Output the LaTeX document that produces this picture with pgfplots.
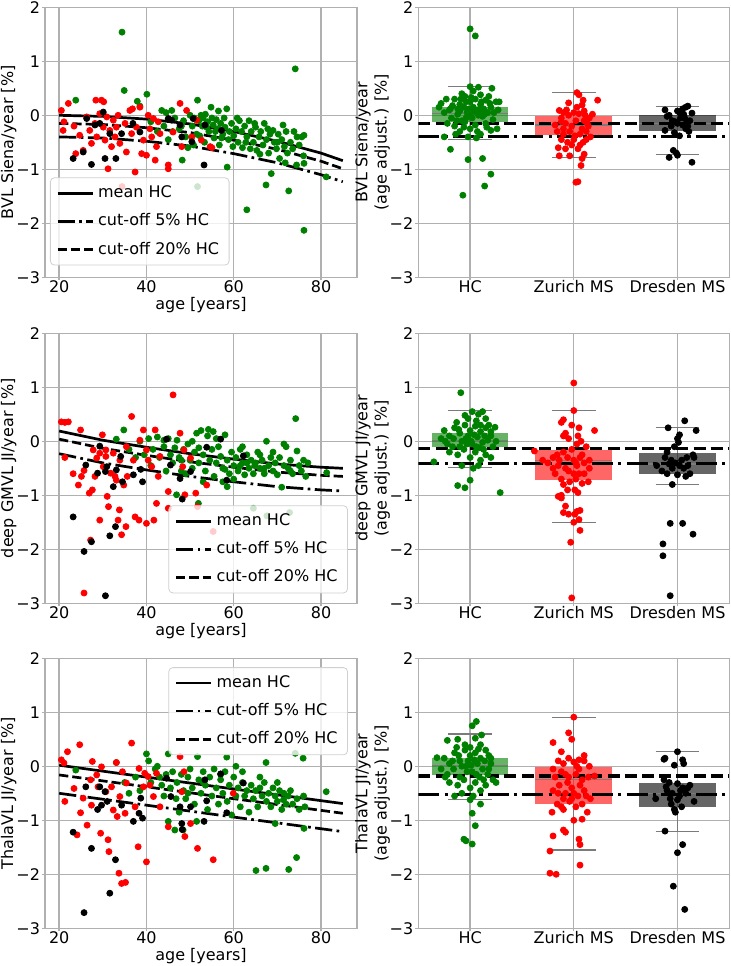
\documentclass[border=0pt]{standalone}
\usepackage{fontspec}
\setmainfont{DejaVu Sans}
\usepackage{pgfplots}
\pgfplotsset{compat=1.18}
\usepgfplotslibrary{statistics}

\definecolor{mgreen}{RGB}{0,128,0}
\definecolor{mred}{RGB}{255,0,0}
\definecolor{gridgray}{RGB}{176,176,176}
\newcommand{\fs}{\fontsize{8}{9.6}\selectfont}

\pgfplotsset{
  panel/.style={
    scale only axis, height=135pt,
    ymin=-3, ymax=2, ytick={-3,-2,-1,0,1,2},
    yticklabels={−3,−2,−1,0,1,2},
    grid=major, grid style={gridgray, line width=0.7pt},
    axis line style={gridgray, line width=0.7pt},
    tick style={gridgray, line width=0.7pt},
    tick align=outside, major tick length=1.5pt, tick pos=left,
    ticklabel style={font=\fs},
    xticklabel style={yshift=3.5pt},
    yticklabel style={xshift=2.5pt},
    label style={font=\fs},
    ylabel style={anchor=south, inner sep=0pt, at={(axis description cs:-0.09,0.5)}},
    legend cell align=left,
    legend style={draw=gridgray!60, fill=white, fill opacity=0.8, text opacity=1,
      rounded corners=2pt, font=\fs, inner xsep=3pt, inner ysep=2pt, row sep=2.5pt},
    legend image code/.code={\draw[#1] (0pt,0pt) -- (17.5pt,0pt);},
  },
  agepanel/.style={panel, width=156pt, xmin=16.75, xmax=88.25,
    xtick={20,40,60,80}, xticklabels={20,40,60,80}, xlabel={age [years]},
    xlabel style={at={(axis description cs:0.5,-0.104)}, anchor=center}},
  grppanel/.style={panel, width=155.5pt, xmin=-0.5, xmax=2.5,
    xtick={0,1,2}, xticklabels={HC,Zurich MS,Dresden MS},
    ylabel style={align=center, font=\fs, at={(axis description cs:-0.09,0.5)}}},
  dots/.style={only marks, mark=*, mark size=1.5pt, color=#1, forget plot},
  meanline/.style={black, line width=1.35pt},
  cutA/.style={black, line width=1.35pt, dash pattern=on 8.6pt off 2.2pt on 1.35pt off 2.2pt},
  cutB/.style={black, line width=1.35pt, dash pattern=on 4.6pt off 2pt},
  hcutA/.style={black, line width=1.65pt, dash pattern=on 10.5pt off 2.6pt on 1.65pt off 2.6pt, forget plot},
  hcutB/.style={black, line width=1.65pt, dash pattern=on 6pt off 2.6pt, forget plot},
  bx/.style={forget plot, draw=gridgray!70!black, line width=0.6pt},
}
% box: lower whisker, lower quartile, median, upper quartile, upper whisker, position, colour
\newcommand{\bxp}[7]{\addplot[bx, boxplot prepared={draw direction=y, lower whisker=#1, lower quartile=#2,
  median=#3, upper quartile=#4, upper whisker=#5, draw position=#6, box extend=0.74,
  whisker extend=0.42, every box/.style={draw=none, fill=#7, fill opacity=0.6}}] coordinates {};}

\begin{document}
\begin{tikzpicture}
\useasboundingbox (0,0) rectangle (365.5pt,483pt);

% ---------------- row 1 ----------------
\begin{axis}[agepanel, at={(22.5pt,344.35pt)}, anchor=south west,
  ylabel={BVL Siena/year [\%]},
  legend style={at={(0.016,0.044)}, anchor=south west}]
\addplot[dots=mgreen] coordinates {(23.8,0.28) (34.4,1.54) (34.9,0.46) (37.9,0.26) (38.5,0.17) (40.1,0.39) (43.5,0.09) (45.8,0.09) (41,-0.12) (42.5,-0.3) (44,-0.2) (45,-0.45) (46.5,-0.05) (47.5,-0.25) (48.2,-0.83) (48.5,-0.1) (49,-0.4) (49.5,-0.6) (50,0.0) (50.5,-0.2) (51,-0.05) (51.5,-0.35) (51.7,0.28) (51.7,-1.32) (52,-0.1) (52.5,0.0) (52.8,-0.2) (53,-0.05) (53.3,-0.5) (53.5,0.02) (54,-0.12) (54.3,-0.3) (54.8,0.15) (55,-0.05) (55.3,-0.18) (55.5,-0.42) (56,-0.08) (56.3,-0.25) (56.7,-0.55) (57,-0.15) (57.5,-0.35) (57.8,-0.05) (58,-0.22) (58.4,0.12) (58.5,-0.96) (58.8,-0.45) (59,-0.3) (59.5,-0.15) (60,-0.38) (60.5,-0.25) (61,-0.5) (61.3,-0.1) (61.8,-0.3) (62,-0.6) (62.5,-0.2) (63,-0.4) (63,-1.75) (63.5,-0.1) (64,-0.3) (64.5,-0.5) (65,-0.22) (65.3,-0.65) (65.8,-0.4) (66.2,-0.3) (66.7,-0.55) (67,-0.15) (67.4,-1.29) (67.5,-0.45) (68,-0.7) (68.3,-0.35) (68.6,-1.08) (69,-0.28) (69.3,-0.5) (69.8,-0.62) (70.2,-0.35) (70.5,-0.8) (71,-0.45) (71.3,-0.18) (71.6,-0.58) (72,-0.3) (72.3,-0.7) (72.6,-1.40) (73,-0.5) (73.5,-0.62) (74.1,0.86) (74.4,-0.92) (74.5,-0.4) (75,-0.55) (75.6,-0.40) (76.1,-0.37) (76.1,-0.89) (76.1,-2.13) (76,-0.75) (81.2,-1.14) (53.8,-0.22) (55.8,-0.3) (57.2,-0.42) (60.8,-0.05) (62.8,-0.5) (64.8,-0.15) (66,-0.72) (70,-0.5) (73.8,-0.3) (52.2,-0.38) (50.8,-0.55) (48,-0.2) (46,-0.3) (44.5,0.05) (56.5,0.08) (59.8,-0.58) (63.8,-0.62) (67.8,-0.25) (71.8,-0.88)};
\addplot[dots=mred] coordinates {(20.5,0.09) (22.1,0.22) (21.1,-0.12) (23.4,-0.2) (23.8,-0.71) (24.7,-0.37) (26.3,-0.03) (27.0,-0.28) (27.4,-0.52) (28.2,-0.15) (28.6,-0.4) (29.3,0.03) (29.7,0.28) (30.1,-0.22) (30.5,-0.46) (30.9,-0.03) (31.2,-0.99) (31.6,-0.28) (32.0,-0.58) (32.4,-0.09) (32.8,-0.40) (33.1,-0.22) (33.5,0.0) (33.9,-0.52) (34.4,-1.32) (35.1,-0.15) (35.4,-0.68) (36.2,0.09) (36.6,-0.34) (37.4,-1.05) (37.7,-0.22) (38.5,0.15) (38.9,-0.71) (39.3,-0.46) (40.0,-0.74) (40.4,0.0) (40.8,-0.25) (41.2,-0.40) (41.6,-0.06) (42.0,-0.83) (42.3,-0.58) (42.7,-0.12) (43.1,-0.34) (45.0,-0.92) (45.0,-0.99) (46.1,-0.31) (47.7,0.22) (48.1,-0.58) (49.2,0.09) (50.4,-0.40) (51.5,-0.09) (52.6,-0.46) (54.6,-0.58) (55.0,-0.6) (20.9,-0.28) (25.5,-0.65) (28.4,0.28) (30.2,0.25) (36.8,0.12)};
\addplot[dots=black] coordinates {(23.2,-0.8) (25.5,-0.68) (27.4,-0.91) (30.1,0.06) (30.5,-0.8) (31.6,-0.34) (33.0,-0.8) (26.3,-0.06) (29.3,-0.15) (34.3,-0.34) (36.9,-0.15) (38.5,-0.31) (45.0,-0.06) (45.8,-0.09) (48.1,-0.40) (50.4,-0.49) (50.7,-0.06) (53.2,-0.92) (53.4,-0.18) (57.2,-0.28) (47.7,-0.18) (28.2,-0.18)};
\addplot[meanline] coordinates {(20,0.0) (30,-0.02) (40,-0.07) (50,-0.16) (60,-0.3) (70,-0.48) (80,-0.7) (85,-0.84)};
\addlegendentry{mean HC}
\addplot[cutA] coordinates {(20,-0.4) (30,-0.42) (40,-0.48) (50,-0.57) (60,-0.71) (70,-0.88) (80,-1.1) (85,-1.23)};
\addlegendentry{cut-off 5\% HC}
\addplot[cutB] coordinates {(20,-0.15) (30,-0.17) (40,-0.23) (50,-0.32) (60,-0.46) (70,-0.63) (80,-0.85) (85,-0.99)};
\addlegendentry{cut-off 20\% HC}
\end{axis}

\begin{axis}[grppanel, at={(209.15pt,344.35pt)}, anchor=south west,
  ylabel={BVL Siena/year\\(age adjust.) [\%]}]
\bxp{-0.45}{-0.12}{0.03}{0.15}{0.53}{0}{mgreen}
\bxp{-0.78}{-0.37}{-0.18}{-0.02}{0.42}{1}{mred}
\bxp{-0.72}{-0.29}{-0.15}{0.01}{0.17}{2}{black}
\addplot[dots=mgreen] coordinates {(0.0,1.6) (0.05,1.47) (-0.07,-1.48) (0.14,-1.31) (0.2,-1.09) (0.12,-0.8) (-0.02,-0.82) (-0.19,-0.63) (-0.25,-0.4) (0.26,-0.25) (0.21,0.5) (0.0,0.53) (0.03,0.45) (0.08,0.52) (-0.28,0.22) (-0.2,0.1) (-0.15,0.3) (-0.1,0.2) (-0.05,0.35) (0.0,0.25) (0.05,0.3) (0.1,0.2) (0.15,0.28) (0.2,0.15) (0.25,0.25) (-0.25,0.05) (-0.18,-0.05) (-0.12,0.12) (-0.08,-0.1) (-0.03,0.05) (0.02,-0.05) (0.07,0.1) (0.12,-0.02) (0.17,0.05) (0.22,-0.08) (0.27,0.1) (-0.22,-0.15) (-0.15,-0.2) (-0.1,-0.3) (-0.05,-0.12) (0.0,-0.25) (0.05,-0.18) (0.1,-0.35) (0.15,-0.15) (0.2,-0.28) (-0.12,0.02) (-0.06,0.15) (0.03,0.15) (0.08,0.0) (0.13,0.12) (-0.17,0.18) (-0.02,-0.4) (0.06,-0.42) (-0.08,0.4) (0.1,0.38) (-0.14,-0.35) (0.18,0.35) (-0.23,0.3) (0.0,0.0) (0.04,0.07) (-0.1,0.08) (0.16,-0.22) (-0.04,0.25) (0.11,0.25) (-0.19,0.12) (0.23,0.05) (-0.01,0.12) (0.07,-0.3) (-0.06,-0.22) (0.01,0.33) (0.14,0.02) (-0.09,0.3) (0.19,0.22) (-0.13,-0.1) (0.09,0.08) (-0.04,-0.05) (0.28,0.25) (-0.3,0.15)};
\addplot[dots=mred] coordinates {(1.03,0.42) (1.05,0.38) (1.09,0.28) (1.23,0.28) (0.86,0.09) (0.95,0.23) (1.08,0.19) (0.88,-0.05) (0.82,-0.18) (1.1,-0.1) (0.85,-0.6) (0.92,-0.62) (0.96,-0.75) (1.06,-0.55) (1.1,-0.72) (1.07,-0.93) (1.04,-1.23) (1.02,-1.24) (0.86,-0.75) (1.12,-0.45) (0.9,0.05) (0.95,0.0) (1.0,0.05) (1.05,0.03) (1.1,0.08) (1.15,-0.05) (0.92,-0.15) (0.98,-0.2) (1.02,-0.1) (1.08,-0.25) (1.14,-0.2) (1.18,0.02) (0.84,-0.3) (0.9,-0.35) (0.96,-0.3) (1.01,-0.38) (1.06,-0.35) (1.12,-0.3) (0.88,-0.45) (0.94,-0.5) (1.0,-0.45) (1.04,-0.62) (1.09,-0.5) (0.9,-0.25) (1.16,-0.4) (1.03,0.15) (0.93,0.1) (1.11,0.0) (0.98,-0.55) (1.08,-0.8) (0.88,-0.12) (1.13,-0.15)};
\addplot[dots=black] coordinates {(1.88,0.1) (2.0,0.08) (2.05,0.12) (2.08,0.15) (2.1,0.17) (2.14,0.04) (1.9,-0.02) (1.95,-0.1) (2.0,-0.15) (2.05,-0.18) (2.1,-0.2) (1.88,-0.28) (1.97,-0.32) (2.02,-0.38) (2.08,-0.25) (1.96,-0.65) (1.99,-0.7) (2.0,-0.74) (1.92,-0.78) (2.14,-0.87) (2.12,-0.1) (1.92,0.0) (2.03,-0.05) (1.94,-0.2) (2.07,-0.05) (2.11,-0.3) (2.02,0.05) (1.98,-0.12) (2.06,0.02) (2.09,-0.12)};
\addplot[hcutB] coordinates {(-0.5,-0.15) (2.5,-0.15)};
\addplot[hcutA] coordinates {(-0.5,-0.39) (2.5,-0.39)};
\end{axis}

% ---------------- row 2 ----------------
\begin{axis}[agepanel, at={(22.5pt,181.35pt)}, anchor=south west,
  ylabel={deep GMVL JI/year [\%]},
  legend style={at={(0.971,0.037)}, anchor=south east}]
\addplot[dots=mgreen] coordinates {(33.1,0.04) (34.8,0.21) (36,-0.15) (37.5,-0.3) (38.5,0.0) (39.5,-0.25) (40.5,0.05) (41,-0.45) (41.5,-0.15) (42.5,0.08) (43,-0.3) (44,-0.1) (44.5,-0.55) (45,0.05) (45.5,-0.25) (46,-0.4) (46.5,-0.12) (46.9,-0.99) (47,0.02) (47.5,-0.3) (48,-0.55) (48.5,-0.15) (49,-0.6) (49.5,-0.05) (50,-0.35) (50.5,-0.5) (51,-0.2) (51.5,0.15) (51.9,-1.15) (52,-0.4) (52.5,0.2) (53,-0.25) (53.5,-0.55) (54,0.1) (54.5,-0.35) (55,-0.15) (55.5,-0.65) (56,-0.4) (56.5,-0.1) (57,-0.28) (57.5,-0.5) (58,0.12) (58.5,-0.84) (58.5,-0.35) (59,-0.6) (59.5,-0.2) (60,-0.45) (60.5,-0.3) (61,-0.55) (61.5,-0.15) (62,-0.4) (62.5,-0.62) (63,-0.25) (63.5,-0.5) (64,-0.35) (64.5,-1.24) (64.5,-0.6) (65,-0.4) (65.5,-0.2) (66,-0.5) (66.5,-0.35) (67,-0.6) (67.6,-1.38) (67.5,0.0) (68,-0.45) (68.5,-0.3) (69,-0.55) (69.5,-0.4) (70,-0.62) (70.5,-0.3) (71,-0.85) (71.5,-0.45) (72,-0.1) (72.8,-1.32) (72.5,-0.5) (73,-0.35) (73.5,-0.6) (74.2,0.42) (74.5,-0.18) (75,-0.45) (75.5,-0.55) (76,-0.35) (76.5,-0.65) (77,-0.4) (71.5,-0.05) (66,-0.25) (62,-0.1) (56,0.05) (60,-0.7) (53,-0.75) (50.5,0.0) (48,-0.35) (44,0.02) (55.3,0.18) (54.2,0.22) (57.5,-0.75) (64.8,-0.45) (69,-0.2) (63,-0.4) (58,-0.52) (52,-0.12) (61.5,-0.45) (67,-0.5) (73,-0.55) (81.3,-0.58)};
\addplot[dots=mred] coordinates {(20.5,0.36) (21.3,0.35) (22.1,0.36) (21.3,-0.3) (23.2,-0.6) (24.4,-0.81) (24.9,0.21) (25.1,-0.65) (25.7,-0.54) (25.7,-2.81) (26.9,-0.96) (27.2,-1.83) (27.6,-0.9) (27.8,-0.16) (28.2,-0.65) (28.6,-0.31) (29.3,-1.46) (29.9,0.12) (30.1,-0.47) (30.7,-0.28) (31.0,-1.02) (31.3,-1.21) (31.8,-0.59) (32.4,-0.22) (32.8,-0.65) (33.1,-0.72) (33.5,-1.46) (33.8,-1.27) (34.3,-1.73) (34.8,-0.81) (35.3,-1.58) (35.6,-0.65) (36.6,0.46) (37.0,-0.35) (37.4,-1.40) (38.3,-1.46) (39.3,0.21) (40.0,-1.52) (40.4,-0.35) (41.2,-0.47) (41.7,-1.46) (42.0,0.21) (42.3,-1.15) (42.7,-0.65) (43.1,-0.28) (45.0,-1.24) (45.0,-0.93) (46.1,0.86) (47.7,0.15) (48.3,-0.47) (48.6,-0.16) (48.8,-0.99) (50.1,-0.31) (51.3,-0.96) (51.7,-1.21) (53.8,-0.81) (55.3,-1.67) (30.7,-0.16) (33.9,-0.35) (29.3,-0.22) (35.4,-0.1) (40.0,-0.16) (38.5,0.02)};
\addplot[dots=black] coordinates {(23.2,-1.40) (25.7,-2.04) (26.1,-0.44) (27.4,-1.86) (28.8,-0.59) (29.3,-0.09) (30.6,-2.86) (30.9,-0.47) (31.6,-1.75) (32.9,-1.58) (32.4,-0.84) (34.1,-0.28) (34.5,-0.75) (37.0,-0.62) (38.7,-0.52) (39.1,-0.75) (44.6,0.04) (45.5,-0.44) (47.7,-0.69) (48.2,-1.07) (50.1,-0.56) (53.8,-0.11) (57.0,0.04) (58.4,-0.72) (62.2,-0.27) (33.1,-0.53) (30.6,-0.56)};
\addplot[meanline] coordinates {(20,0.19) (30,0.02) (40,-0.11) (50,-0.23) (60,-0.33) (70,-0.42) (80,-0.48) (85,-0.5)};
\addlegendentry{mean HC}
\addplot[cutA] coordinates {(20,-0.23) (30,-0.4) (40,-0.53) (50,-0.65) (60,-0.75) (70,-0.84) (80,-0.9) (85,-0.92)};
\addlegendentry{cut-off 5\% HC}
\addplot[cutB] coordinates {(20,0.04) (30,-0.13) (40,-0.26) (50,-0.38) (60,-0.48) (70,-0.57) (80,-0.63) (85,-0.65)};
\addlegendentry{cut-off 20\% HC}
\end{axis}

\begin{axis}[grppanel, at={(209.15pt,181.35pt)}, anchor=south west,
  ylabel={deep GMVL JI/year\\(age adjust.) [\%]}]
\bxp{-0.48}{-0.11}{0.02}{0.16}{0.57}{0}{mgreen}
\bxp{-1.5}{-0.72}{-0.36}{-0.16}{0.57}{1}{mred}
\bxp{-0.8}{-0.61}{-0.42}{-0.22}{0.25}{2}{black}
\addplot[dots=mgreen] coordinates {(-0.09,0.9) (0.29,-0.95) (-0.12,-0.82) (-0.05,-0.86) (0.0,-0.72) (-0.35,-0.38) (0.24,0.26) (0.02,0.55) (0.12,0.55) (0.08,0.5) (-0.05,0.48) (0.15,0.42) (-0.02,0.42) (0.06,0.38) (-0.25,0.2) (-0.2,0.1) (-0.15,0.25) (-0.1,0.15) (-0.05,0.3) (0.0,0.2) (0.05,0.28) (0.1,0.18) (0.15,0.25) (0.2,0.1) (-0.28,0.05) (-0.22,-0.05) (-0.16,0.05) (-0.1,-0.1) (-0.04,0.05) (0.02,-0.05) (0.07,0.08) (0.12,-0.02) (0.17,0.02) (0.22,-0.1) (-0.2,-0.2) (-0.12,-0.25) (-0.06,-0.15) (0.0,-0.3) (0.05,-0.2) (0.1,-0.35) (0.15,-0.25) (0.2,-0.3) (-0.08,-0.45) (0.03,-0.5) (0.08,-0.45) (-0.13,0.35) (0.1,0.3) (-0.02,0.1) (0.04,0.12) (-0.08,0.0) (0.14,0.1) (-0.17,-0.1) (0.06,-0.1) (0.18,0.3) (-0.03,-0.05) (0.01,0.0) (0.09,-0.12) (-0.11,0.22) (0.13,-0.15) (-0.24,0.0) (0.2,0.18) (0.25,0.0)};
\addplot[dots=mred] coordinates {(1.0,1.08) (1.0,0.57) (0.98,-2.9) (0.97,-1.87) (1.06,-1.65) (0.9,-1.32) (0.88,-1.0) (0.85,-1.02) (1.0,-1.5) (0.95,-1.35) (1.05,-1.45) (1.03,-1.3) (1.06,-1.28) (0.92,-1.2) (1.01,-1.35) (0.88,-1.05) (1.01,-0.9) (1.04,-0.95) (1.02,-0.4) (0.9,0.4) (0.88,0.35) (0.92,0.15) (1.04,0.1) (1.07,0.0) (1.2,0.2) (0.9,0.1) (0.95,0.05) (0.62,-0.18) (0.7,-0.35) (0.75,-0.4) (0.8,-0.3) (0.85,-0.45) (0.9,-0.2) (0.95,-0.55) (1.0,-0.35) (1.05,-0.6) (1.1,-0.4) (1.15,-0.5) (0.82,-0.6) (0.88,-0.7) (0.94,-0.3) (1.02,-0.7) (1.08,-0.25) (1.14,-0.75) (0.92,-0.5) (0.98,-0.15) (1.03,-0.45) (1.1,-0.6) (0.86,-0.35) (1.06,-0.3) (0.96,-0.75) (1.12,-0.1) (0.9,-0.8) (1.0,-0.6) (0.94,-0.9) (1.03,-0.05) (1.15,-0.35) (0.8,-0.5) (1.05,0.25) (0.98,0.3) (1.08,-0.78) (0.84,-0.25)};
\addplot[dots=black] coordinates {(1.86,-1.9) (1.86,-2.12) (1.93,-2.86) (1.93,-1.52) (2.05,-1.52) (2.15,-1.72) (2.07,0.38) (1.91,0.25) (2.18,0.2) (2.02,0.12) (2.0,0.05) (2.01,-0.02) (1.97,-0.1) (2.15,-0.25) (2.16,-0.3) (1.9,-0.2) (1.8,-0.45) (1.85,-0.55) (1.88,-0.3) (1.94,-0.35) (1.98,-0.4) (2.02,-0.45) (2.06,-0.5) (2.09,-0.3) (1.9,-0.6) (1.95,-0.5) (2.0,-0.62) (2.08,-0.65) (1.95,-0.8) (2.04,-0.35) (1.92,-0.42) (2.1,-0.45) (2.12,-0.6)};
\addplot[hcutB] coordinates {(-0.5,-0.13) (2.5,-0.13)};
\addplot[hcutA] coordinates {(-0.5,-0.41) (2.5,-0.41)};
\end{axis}

% ---------------- row 3 ----------------
\begin{axis}[agepanel, at={(22.5pt,18.85pt)}, anchor=south west,
  ylabel={ThalaVL JI/year [\%]},
  legend style={at={(0.971,0.967)}, anchor=north east}]
\addplot[dots=mgreen] coordinates {(23.8,-0.07) (33.1,0.07) (35,-0.3) (36,-0.5) (37.5,-0.2) (38.5,-0.45) (40.0,0.23) (40.5,0.1) (41,-0.3) (42,-0.05) (42.5,0.0) (43,-0.2) (43.5,-0.35) (44,-0.55) (44.5,-0.15) (45.0,0.23) (45,-1.02) (45.5,-0.4) (46,-0.1) (46.5,-1.18) (46.8,-0.6) (47,-0.3) (47.5,-0.85) (48,-0.15) (48.4,-1.18) (48.5,-0.45) (49,-0.6) (49.5,-0.2) (50,-0.05) (50.5,-0.4) (51,-0.7) (51.5,-1.02) (51.7,0.18) (52,-0.25) (52.5,-0.5) (53,-0.1) (53.5,-0.35) (54,-0.8) (54.5,-0.2) (55,-0.55) (55.5,-0.05) (56,-0.4) (56.5,-0.7) (57,-0.25) (57.5,-0.5) (58,-0.1) (58.4,0.17) (58.5,-0.65) (59,-0.35) (59.5,-0.9) (60,-0.2) (60.5,-0.55) (61,-0.4) (61.5,-0.75) (62,-0.3) (62.5,-0.55) (63,-0.45) (63.5,-0.85) (64,-0.35) (64.5,-0.6) (65,-0.45) (65.1,-1.93) (65.5,-0.75) (66,-0.4) (66.5,-0.55) (67,-0.3) (67.4,0.07) (67.4,-1.89) (67.5,-0.65) (68,-0.5) (68.5,-0.75) (69,-0.4) (69.5,-1.06) (69.5,-0.55) (70,-0.65) (70.5,-0.45) (71,-0.8) (71.4,-0.62) (71.5,-0.5) (72,-0.7) (72.6,-1.91) (72.5,-0.55) (73,-0.45) (73.5,-0.7) (74.1,0.24) (74.4,-1.69) (74.5,-0.6) (75,-0.8) (75.9,0.15) (76,-0.55) (76.1,-1.15) (76.3,-0.75) (81.2,-0.47) (57,-0.15) (62,-0.1) (53,-0.3) (49.5,-0.5) (66,-0.2) (70,-0.3) (60.5,0.0)};
\addplot[dots=mred] coordinates {(20.5,0.12) (21.1,0.06) (21.3,-0.65) (21.9,0.27) (23.4,-0.41) (24.1,-1.27) (24.7,0.40) (24.9,-0.86) (25.5,-0.59) (26.4,-1.09) (27.2,-0.25) (27.4,-0.72) (27.6,0.09) (28.6,-0.16) (28.9,-0.38) (29.5,-1.24) (29.7,-0.01) (30.7,-0.47) (31.2,-1.36) (31.4,-1.58) (32.0,-0.38) (32.4,-0.81) (33.1,0.07) (33.3,-0.93) (33.7,-1.98) (33.9,-0.56) (34.3,-2.17) (35.2,-2.15) (35.1,-0.87) (34.5,-0.1) (36.6,0.43) (37.4,-0.75) (38.1,-1.49) (38.3,-0.04) (40.0,-1.77) (39.6,-0.13) (40.4,-0.19) (40.8,-0.35) (41.6,-0.56) (42.3,-0.13) (43.1,-0.75) (45.0,-1.12) (47.7,0.18) (48.1,-0.47) (48.6,-0.1) (48.8,-1.30) (50.1,-1.06) (51.7,-1.52) (55.3,-1.73) (59.9,-0.5) (39.3,-0.38) (35.4,-0.31)};
\addplot[dots=black] coordinates {(23.2,-1.22) (25.7,-2.71) (26.1,-0.38) (27.4,-1.52) (28.8,-0.8) (29.3,-0.38) (29.7,-0.72) (30.5,-0.47) (31.6,-2.35) (31.0,-0.65) (32.9,-1.73) (34.3,-0.72) (37.0,-1.02) (38.3,-0.87) (38.7,-0.59) (39.1,-0.96) (44.6,-0.22) (45.6,-0.56) (47.7,-0.75) (48.1,-1.06) (48.2,-1.17) (50.1,-0.75) (53.2,-1.02) (53.4,-0.25) (53.8,-0.64) (57.0,-0.14) (58.4,-0.86) (62.2,-0.31)};
\addplot[meanline] coordinates {(20,0.02) (40,-0.2) (60,-0.42) (85,-0.69)};
\addlegendentry{mean HC}
\addplot[cutA] coordinates {(20,-0.5) (40,-0.72) (60,-0.94) (85,-1.21)};
\addlegendentry{cut-off 5\% HC}
\addplot[cutB] coordinates {(20,-0.16) (40,-0.38) (60,-0.6) (85,-0.87)};
\addlegendentry{cut-off 20\% HC}
\end{axis}

\begin{axis}[grppanel, at={(209.15pt,18.85pt)}, anchor=south west,
  ylabel={ThalaVL JI/year\\(age adjust.) [\%]}]
\bxp{-0.62}{-0.16}{0.02}{0.16}{0.6}{0}{mgreen}
\bxp{-1.55}{-0.69}{-0.24}{-0.02}{0.91}{1}{mred}
\bxp{-1.2}{-0.75}{-0.5}{-0.31}{0.27}{2}{black}
\addplot[dots=mgreen] coordinates {(0.06,0.83) (0.02,0.75) (-0.22,0.48) (0.11,0.58) (-0.32,0.16) (0.0,-0.62) (0.1,-0.7) (0.02,-0.87) (0.05,-1.1) (-0.06,-1.35) (-0.04,-1.38) (0.02,-1.44) (-0.12,0.5) (0.05,0.52) (-0.05,0.4) (0.1,0.4) (0.18,0.2) (0.2,0.15) (-0.25,0.15) (-0.2,0.05) (-0.15,0.25) (-0.1,0.1) (-0.05,0.3) (0.0,0.2) (0.05,0.25) (0.1,0.15) (0.15,0.3) (0.2,0.05) (-0.28,-0.05) (-0.22,-0.15) (-0.16,-0.05) (-0.1,-0.2) (-0.04,0.0) (0.02,-0.1) (0.07,0.05) (0.12,-0.05) (0.17,-0.15) (0.22,-0.25) (-0.2,-0.3) (-0.12,-0.35) (-0.06,-0.25) (0.0,-0.4) (0.05,-0.3) (0.1,-0.45) (0.15,-0.35) (-0.08,-0.5) (0.03,-0.55) (-0.15,-0.55) (-0.13,0.35) (0.08,0.32) (-0.02,0.1) (0.04,0.12) (-0.08,0.0) (0.14,0.1) (-0.17,0.1) (0.06,-0.15) (-0.03,-0.1) (0.01,0.02) (0.09,-0.2) (-0.11,0.2) (0.13,-0.25) (0.25,-0.3) (-0.24,-0.2) (0.0,0.35) (0.18,-0.05)};
\addplot[dots=mred] coordinates {(1.0,0.91) (0.95,0.62) (0.98,0.5) (0.8,0.44) (0.88,0.27) (0.77,-1.57) (0.77,-1.98) (0.83,-2.0) (1.06,-1.83) (1.05,-1.35) (1.06,-1.45) (0.92,-1.22) (0.9,-1.18) (0.8,-1.29) (1.0,-1.0) (1.08,-0.98) (1.13,-0.85) (0.79,-0.85) (0.9,-0.8) (0.8,-0.05) (0.85,0.1) (0.9,0.05) (0.95,0.15) (1.0,0.08) (1.05,0.12) (1.1,0.1) (1.15,0.0) (0.82,-0.2) (0.88,-0.1) (0.94,-0.3) (1.02,-0.15) (1.08,-0.25) (1.14,-0.2) (1.2,-0.18) (0.8,-0.45) (0.86,-0.35) (0.92,-0.5) (0.98,-0.4) (1.04,-0.55) (1.1,-0.45) (1.16,-0.6) (0.84,-0.7) (0.9,-0.6) (0.96,-0.65) (1.02,-0.75) (1.08,-0.7) (1.12,-0.55) (0.92,-0.15) (1.05,-0.05) (0.98,-0.6) (1.06,-0.35) (0.88,-0.75) (1.1,0.2) (0.95,-0.2) (1.03,0.0) (1.0,-0.5) (0.85,-0.5)};
\addplot[dots=black] coordinates {(2.0,0.27) (1.87,0.13) (1.88,0.15) (2.05,0.12) (1.97,0.02) (2.06,0.05) (1.79,-0.6) (1.88,-1.2) (2.05,-1.45) (2.0,-1.6) (1.96,-2.22) (2.07,-2.65) (1.87,-0.25) (1.92,-0.3) (2.0,-0.32) (2.05,-0.4) (2.1,-0.4) (1.9,-0.45) (1.95,-0.5) (2.02,-0.55) (2.08,-0.5) (2.16,-0.65) (1.94,-0.7) (2.0,-0.62) (2.04,-0.75) (1.98,-0.85) (1.97,-0.8) (2.12,-0.35) (1.89,-0.38) (2.03,-0.45) (1.93,-0.6)};
\addplot[hcutB] coordinates {(-0.5,-0.18) (2.5,-0.18)};
\addplot[hcutA] coordinates {(-0.5,-0.52) (2.5,-0.52)};
\end{axis}
\end{tikzpicture}
\end{document}
